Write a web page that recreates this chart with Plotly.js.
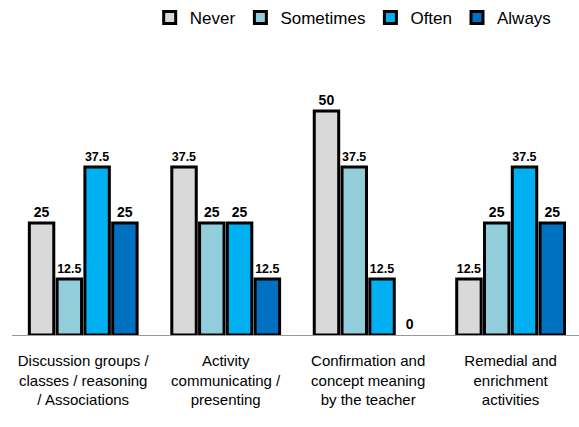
<!DOCTYPE html>
<html>
<head>
<meta charset="utf-8">
<script src="https://cdn.plot.ly/plotly-3.0.1.min.js"></script>
<style>html,body{margin:0;padding:0;background:#fff;}#chart{width:579px;height:427px;}</style>
</head>
<body>
<div id="chart"></div>
<script>
const categories = [
  "Discussion groups /<br>classes / reasoning<br>/ Associations",
  "Activity<br>communicating /<br>presenting",
  "Confirmation and<br>concept meaning<br>by the teacher",
  "Remedial and<br>enrichment<br>activities"
];
const seriesNames = ["Never", "Sometimes", "Often", "Always"];
const never = [25, 37.5, 50, 12.5];
const sometimes = [12.5, 25, 37.5, 25];
const often = [37.5, 25, 12.5, 37.5];
const always = [25, 12.5, 0, 25];
const colors = ["#d9d9d9", "#92cddc", "#00b0f0", "#0070c0"];

const FONT = '"Liberation Sans", Arial, sans-serif';
const values = [never, sometimes, often, always];
const traces = values.map((v, i) => ({
  type: 'bar',
  name: seriesNames[i],
  x: categories,
  y: v,
  text: v.map(String),
  textposition: 'outside',
  cliponaxis: false,
  textfont: {family: FONT, size: 14, color: '#000', weight: 'bold'},
  marker: {color: colors[i], line: {color: '#000', width: v.map(val => val === 0 ? 0 : 3)}},
  hoverinfo: 'skip'
}));

const layout = {
  width: 579, height: 427,
  margin: {l: 12, r: 0, t: 60, b: 92},
  paper_bgcolor: '#fff', plot_bgcolor: '#fff',
  barmode: 'group',
  bargap: 0.22,
  bargroupgap: 0.12,
  showlegend: true,
  legend: {orientation: 'h', xref: 'container', yref: 'container',
           x: 0.61, xanchor: 'center', y: 1.0, yanchor: 'top',
           font: {family: FONT, size: 17, color: '#000'}, itemwidth: 30, traceorder: 'normal'},
  xaxis: {range: [-0.5, 3.48], showline: true, linecolor: '#999', linewidth: 1,
          ticks: '', ticklabelstandoff: 12,
          tickfont: {family: FONT, size: 15, color: '#000'}, fixedrange: true},
  yaxis: {range: [0, 61.4], visible: false, showgrid: false, zeroline: false, fixedrange: true},
  font: {family: FONT}
};

Plotly.newPlot('chart', traces, layout, {displayModeBar: false, staticPlot: true});
</script>
</body>
</html>
